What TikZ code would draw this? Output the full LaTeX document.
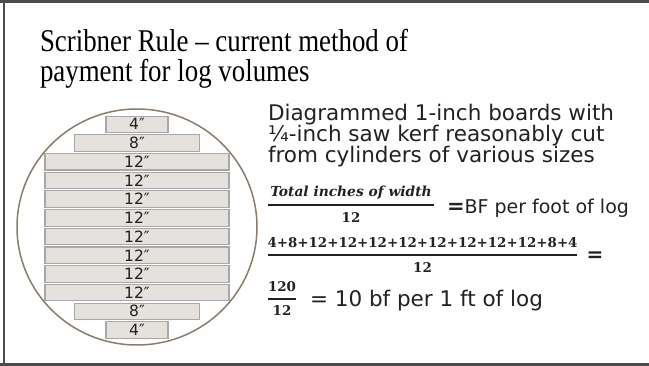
\documentclass[tikz,border=0pt]{standalone}
\usepackage{graphicx}
\usepackage{fontspec}
\setmainfont{DejaVu Sans}
\newfontfamily\titlefont{Liberation Serif}
\newfontfamily\fracfont{DejaVu Serif}
\definecolor{framegray}{HTML}{4D4D4D}
\definecolor{inkc}{HTML}{222222}
\definecolor{boardfill}{HTML}{E5E1DC}
\definecolor{boardline}{HTML}{A8A8A8}
\definecolor{logline}{HTML}{8A7D6E}
\newcommand{\titlescale}[1]{\scalebox{0.96}[1.13]{#1}}
\tikzset{
  lbl/.style={inner sep=0pt, outer sep=0pt, text=inkc},
  titletext/.style={lbl, anchor=base west, text=black, font=\titlefont\fontsize{28}{30}\selectfont},
  bodytext/.style={lbl, anchor=base west, font=\fontsize{21.5}{23}\selectfont},
  board/.style={draw=boardline, fill=boardfill, line width=1.1pt, minimum height=16.5pt,
     inner sep=0pt, text=inkc, font=\fontsize{15.5}{15.5}\selectfont},
  fracnum/.style={lbl, anchor=base, font=\fracfont\bfseries\fontsize{13.4}{14}\selectfont},
  fracbar/.style={draw=inkc, line width=1.3pt},
}
\begin{document}
\begin{tikzpicture}[x=1pt,y=-1pt]
\useasboundingbox (0,0) rectangle (649,366);
\fill[white] (0,0) rectangle (649,366);
% frame
\fill[framegray] (0,0) rectangle (649,3);
\fill[framegray] (3,0) rectangle (5,366);
\fill[framegray] (0,363) rectangle (649,366);
% title
\node[titletext] (t1) at (40,52) {\titlescale{Scribner Rule – current method of}};
\node[titletext] (t2) at (40,82) {\titlescale{payment for log volumes}};
% log
\draw[logline, line width=1.5pt] (137,227) ellipse [x radius=120pt, y radius=118pt];
\foreach \w/\t [count=\i from 0] in {62/4,125/8,184/12,184/12,184/12,184/12,184/12,184/12,184/12,184/12,125/8,62/4}{
  \node[board, minimum width=\w pt] (b\i) at (137,{124.35+18.7*\i}) {\t″};
}
% description
\node[bodytext] (d1) at (268,121) {Diagrammed 1-inch boards with};
\node[bodytext] (d2) at (268,142) {¼-inch saw kerf reasonably cut};
\node[bodytext] (d3) at (268,163) {from cylinders of various sizes};
% formula 1
\node[lbl, anchor=base, font=\fracfont\itshape\bfseries\fontsize{13.8}{14}\selectfont] (f1n) at (351,197) {Total inches of width};
\coordinate (f1l) at (268,205);
\coordinate (f1r) at (434,205);
\draw[fracbar] (f1l) -- (f1r);
\node[fracnum] (f1d) at (351,223) {12};
\node[lbl, anchor=base west] (f1e) at (447,214) {{\bfseries\fontsize{21}{22}\selectfont =}{\fontsize{19}{20}\selectfont BF per foot of log}};
% formula 2
\node[fracnum] (f2n) at (422.5,248) {4+8+12+12+12+12+12+12+12+12+8+4};
\coordinate (f2l) at (268,255.5);
\coordinate (f2r) at (577,255.5);
\draw[fracbar, line width=2pt] (f2l) -- (f2r);
\node[fracnum] (f2d) at (422.5,273) {12};
\node[lbl, font=\bfseries\fontsize{20}{20}\selectfont] (f2e) at (595,257) {=};
% formula 3
\node[fracnum] (f3n) at (282,292) {120};
\coordinate (f3l) at (268,299);
\coordinate (f3r) at (296,299);
\draw[fracbar] (f3l) -- (f3r);
\node[fracnum] (f3d) at (282,316) {12};
\node[bodytext] (f3e) at (310,307) {=\ 10 bf per 1 ft of log};
\end{tikzpicture}
\end{document}
